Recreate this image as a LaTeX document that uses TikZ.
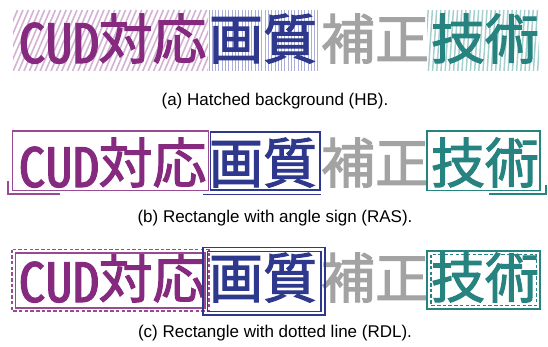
\documentclass[tikz,border=0pt]{standalone}
\usepackage{fontspec}
\setmainfont{Liberation Sans}
\newfontfamily\jpfont{Noto Sans CJK JP}[FakeBold=2]
\newfontfamily\jphalf{Noto Sans CJK JP}[RawFeature=+hwid, FakeBold=2]
\definecolor{cudpurple}{HTML}{862A80}
\definecolor{cudblue}{HTML}{2E388C}
\definecolor{cudgray}{HTML}{A3A3A3}
\definecolor{cudteal}{HTML}{268380}
\definecolor{hatchpurple}{HTML}{D4B2D3}
\definecolor{hatchblue}{HTML}{ABAED8}
\definecolor{hatchteal}{HTML}{A6D0CD}
\tikzset{
  kanji/.style={font=\jpfont\fontsize{54}{54}\selectfont, inner sep=0pt, anchor=base},
  latin/.style={font=\jphalf\fontsize{54}{54}\selectfont, inner sep=0pt, anchor=base},
  caption/.style={font=\fontsize{17}{19}\selectfont, inner sep=0pt},
  frame/.style={line width=1.3pt},
  dashframe/.style={line width=1.1pt, dash pattern=on 3.5pt off 2.2pt},
}
\begin{document}
\begin{tikzpicture}[x=1pt,y=-1pt]
\useasboundingbox (0,0) rectangle (548,347);

% ---------- (a) hatched backgrounds ----------
\begin{scope}
  \clip (13,10) rectangle (208,71);
  \foreach \i in {-30,-24.6,...,215}
    \draw[hatchpurple, line width=1.6pt] (\i,71) -- ++(26,-61);
\end{scope}
\begin{scope}
  \clip (208,10) rectangle (320,71);
  \foreach \i in {209,212.3,...,321}
    \draw[hatchblue, line width=1pt] (\i,71) -- (\i,10);
\end{scope}
\begin{scope}
  \clip (427,10) rectangle (539,71);
  \foreach \i in {420,424.2,...,545}
    \draw[hatchteal, line width=1.5pt] (\i,71) -- ++(4,-61);
\end{scope}

\node[latin, cudpurple] (a1) at (59,63) {CUD};
\node[kanji, cudpurple] (a2) at (152.5,59) {対応};
\node[kanji, cudblue]   (a3) at (263,59) {画質};
\node[kanji, cudgray]   (a4) at (375,59) {補正};
\node[kanji, cudteal]   (a5) at (485,59) {技術};
\node[caption] (capa) at (275,101) {(a) Hatched background (HB).};

% ---------- (b) rectangles with angle signs ----------
\node[latin, cudpurple] (b1) at (59,187) {CUD};
\node[kanji, cudpurple] (b2) at (152.5,183) {対応};
\node[kanji, cudblue]   (b3) at (263,183) {画質};
\node[kanji, cudgray]   (b4) at (375,183) {補正};
\node[kanji, cudteal]   (b5) at (485,183) {技術};

\coordinate (bp1) at (12.5,131);  \coordinate (bp2) at (208.5,190.5);
\coordinate (bb1) at (210.5,132); \coordinate (bb2) at (320,190);
\coordinate (bt1) at (427,131);   \coordinate (bt2) at (540,190.5);
\draw[frame, cudpurple!85] (bp1) rectangle (bp2);
\draw[frame, cudblue]      (bb1) rectangle (bb2);
\draw[frame, cudteal]      (bt1) rectangle (bt2);
% angle signs
\coordinate (ap1) at (8,181);   \coordinate (ap2) at (8,194);   \coordinate (ap3) at (60,194);
\coordinate (ab1) at (203,194.5); \coordinate (ab2) at (321,194.5);
\coordinate (at1) at (489,194); \coordinate (at2) at (546,194); \coordinate (at3) at (546,185);
\draw[frame, cudpurple!85] (ap1) -- (ap2) -- (ap3);
\draw[frame, cudblue]      (ab1) -- (ab2);
\draw[frame, cudteal]      (at1) -- (at2) -- (at3);
\node[caption] (capb) at (275,218) {(b) Rectangle with angle sign (RAS).};

% ---------- (c) rectangles with dotted lines ----------
\node[latin, cudpurple] (c1) at (59,302) {CUD};
\node[kanji, cudpurple] (c2) at (152.5,298) {対応};
\node[kanji, cudblue]   (c3) at (263,298) {画質};
\node[kanji, cudgray]   (c4) at (375,298) {補正};
\node[kanji, cudteal]   (c5) at (485,298) {技術};

\draw[dashframe, cudpurple!85] (12,249.5) rectangle (209,311);
\draw[frame, cudpurple!85]     (15.5,253) rectangle (205,308);
\draw[frame, cudblue]          (203,247.5) rectangle (325,315);
\draw[frame, cudblue]          (207.5,251.5) rectangle (321,311.5);
\draw[frame, cudteal]          (427,251) rectangle (540,309);
\draw[dashframe, cudteal]      (431,254.5) rectangle (536.5,305.5);
\node[caption] (capc) at (275,333) {(c) Rectangle with dotted line (RDL).};
\end{tikzpicture}
\end{document}
